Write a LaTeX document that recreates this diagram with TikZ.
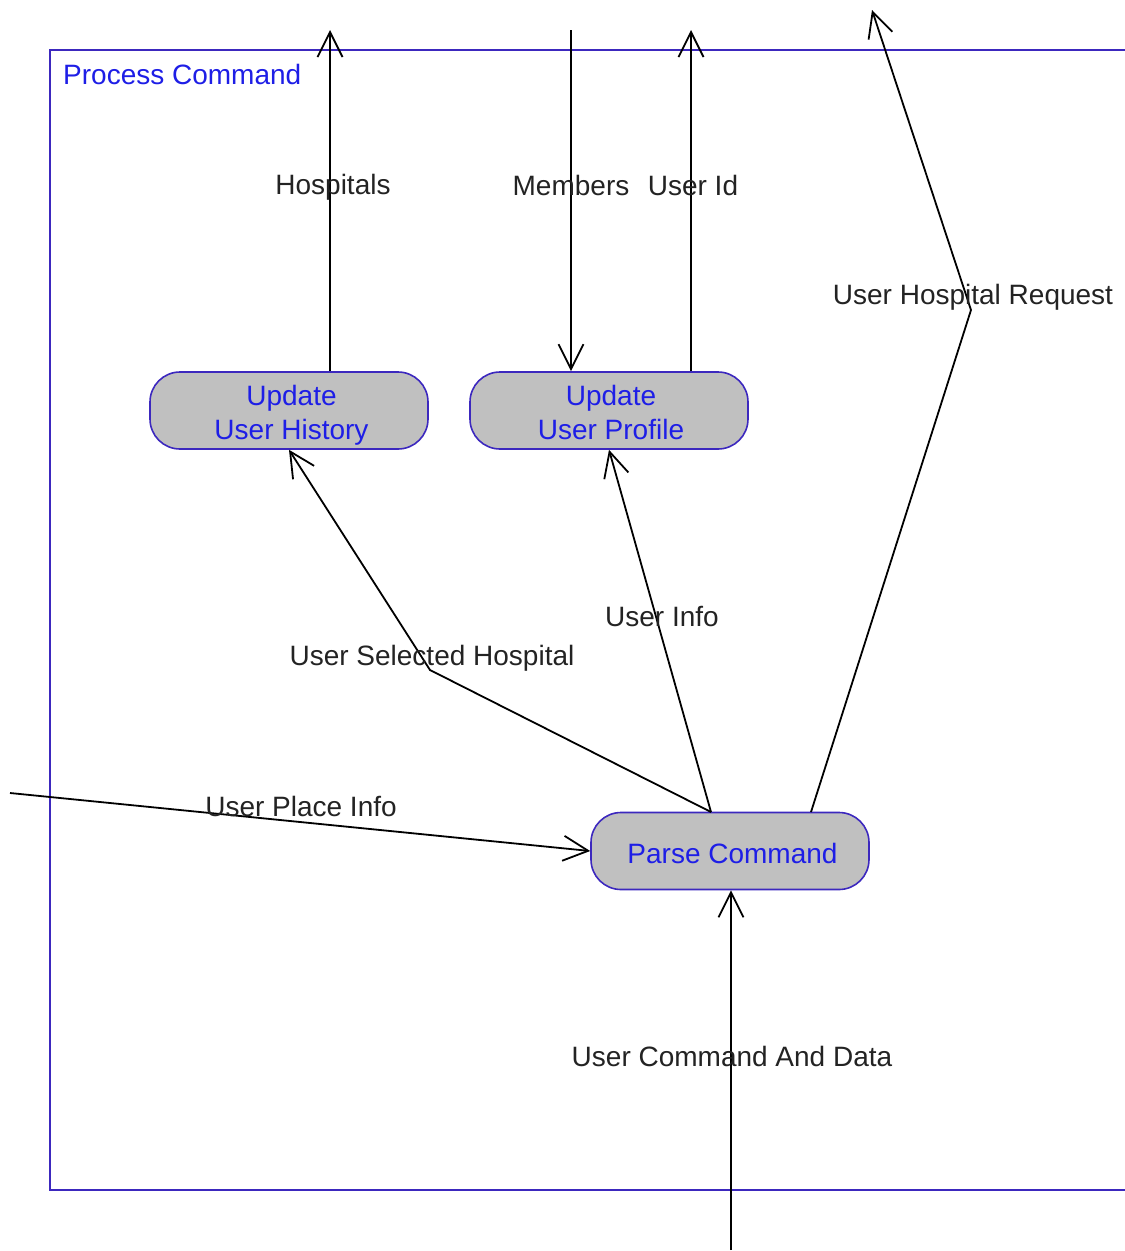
\documentclass[tikz,border=0pt]{standalone}
\usepackage{fontspec}
\setmainfont{Liberation Sans}
\usetikzlibrary{arrows.meta}
\definecolor{frameblue}{RGB}{60,40,190}
\definecolor{textblue}{RGB}{30,30,230}
\definecolor{boxgray}{RGB}{192,192,192}
\definecolor{labelgray}{RGB}{35,35,35}
% fixed line struts so both two-line boxes set their text alike
\newcommand{\topline}{\rule{0pt}{31pt}}
\newcommand{\botline}{\rule[-8pt]{0pt}{8pt}}
\begin{document}
\begin{tikzpicture}[x=1pt,y=-1pt,
  every node/.style={font=\fontsize{28}{34}\selectfont},
  process/.style={draw=frameblue, line width=1.6pt, fill=boxgray,
    rounded corners=30pt, minimum width=278pt, minimum height=77pt,
    text=textblue, align=center, inner sep=0pt},
  flow/.style={draw=black, line width=1.8pt,
    -{Straight Barb[length=25pt,width=25pt,line width=1.8pt]}},
  flowlabel/.style={text=labelgray, inner sep=0pt}]

\useasboundingbox (0,0) rectangle (1125,1251);
\clip (0,0) rectangle (1125,1251);

% enclosing process frame
\draw[frameblue, line width=1.6pt] (1140,50) -- (50,50) -- (50,1190) -- (1140,1190);
\node[text=textblue, anchor=west, inner sep=0pt] (title) at (63,74) {Process Command};

% processes
\node[process] (UH) at (289,410.5) {\hspace*{5pt}\topline Update\\\hspace*{5pt}User History\botline};
\node[process] (UP) at (609,410.5) {\hspace*{4pt}\topline Update\\\hspace*{4pt}User Profile\botline};
\node[process] (PC) at (730,851) {\hspace*{5pt}\rule{0pt}{25pt}Parse Command};

% free ends and bend points
\coordinate (hospEnd) at (330,30);
\coordinate (membStart) at (571,30);
\coordinate (idEnd) at (691,30);
\coordinate (reqEnd) at (872,10);
\coordinate (reqBend) at (971,310);
\coordinate (reqStart) at (811,812);
\coordinate (selStart) at (711,812);
\coordinate (selBend) at (430,670);
\coordinate (placeStart) at (10,793);
\coordinate (cmdStart) at (731,1250);

% data flows
\draw[flow] (UH.north -| hospEnd) -- (hospEnd);
\draw[flow] (membStart) -- (UP.north -| membStart);
\draw[flow] (UP.north -| idEnd) -- (idEnd);
\draw[flow] (reqStart) -- (reqBend) -- (reqEnd);
\draw[flow] (selStart) -- (selBend) -- (UH.south);
\draw[flow] (selStart) -- (UP.south);
\draw[flow] (placeStart) -- (PC.west);
\draw[flow] (cmdStart) -- (PC.south -| cmdStart);

% flow labels
\node[flowlabel] (lHosp) at (333,187) {Hospitals};
\node[flowlabel] (lMemb) at (571,185) {Members};
\node[flowlabel] (lId) at (693,185) {User Id};
\node[flowlabel] (lReq) at (973,297) {User Hospital Request};
\node[flowlabel] (lSel) at (432,658) {User Selected Hospital};
\node[flowlabel] (lInfo) at (662,616) {User Info};
\node[flowlabel] (lPlace) at (301,806) {User Place Info};
\node[flowlabel] (lCmd) at (732,1056) {User Command And Data};
\end{tikzpicture}
\end{document}
